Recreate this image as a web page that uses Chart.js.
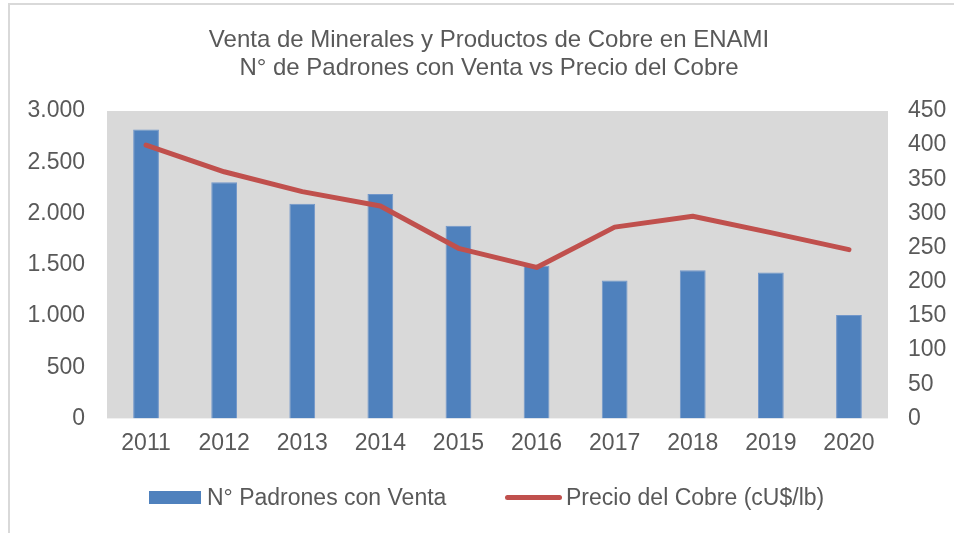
<!DOCTYPE html>
<html>
<head>
<meta charset="utf-8">
<script src="https://cdn.jsdelivr.net/npm/chart.js@4.4.1/dist/chart.umd.min.js"></script>
<style>
  html, body { margin: 0; padding: 0; background: #fff; }
  #wrap { position: relative; width: 954px; height: 533px; overflow: hidden; }
  #frame { position: absolute; left: 8px; top: 3px; width: 1000px; height: 600px;
           border-left: 2px solid #d9d9d9; border-top: 2px solid #d9d9d9; }
  canvas { position: absolute; left: 0; top: 0; }
  .lg { position: absolute; font: 23px "Liberation Sans", Arial, sans-serif; color: #595959;
        line-height: 28px; top: 483px; white-space: nowrap; }
  .sw { position: absolute; }
</style>
</head>
<body>
<div id="wrap">
  <div id="frame"></div>
  <canvas id="chart" width="954" height="533"></canvas>
  <div class="sw" style="left:149px;top:491px;width:52px;height:13px;background:#4f81bd"></div>
  <div class="lg" style="left:207px">N° Padrones con Venta</div>
  <div class="sw" style="left:505px;top:495px;width:57px;height:5px;background:#c0504d;border-radius:3px"></div>
  <div class="lg" style="left:566px">Precio del Cobre (cU$/lb)</div>
</div>
<script>
const years = ['2011', '2012', '2013', '2014', '2015', '2016', '2017', '2018', '2019', '2020'];
const padrones = [2820, 2305, 2095, 2190, 1880, 1490, 1345, 1445, 1425, 1010];
const precioCobre = [400, 361, 332, 311, 249, 221, 280, 296, 272, 247];

const fontFamily = '"Liberation Sans", Arial, sans-serif';
const textColor = '#595959';

// gray plot background
const plotBg = {
    id: 'plotBg',
    beforeDraw(chart) {
        const a = chart.chartArea;
        const c = chart.ctx;
        c.save();
        c.fillStyle = '#d9d9d9';
        c.fillRect(a.left, a.top, a.right - a.left, a.bottom - a.top);
        c.restore();
    }
};

new Chart(document.getElementById('chart'), {
    type: 'bar',
    data: {
        labels: years,
        datasets: [{
            type: 'line',
            label: 'Precio del Cobre (cU$/lb)',
            data: precioCobre,
            yAxisID: 'y1',
            borderColor: '#c0504d',
            borderWidth: 5,
            borderCapStyle: 'round',
            borderJoinStyle: 'round',
            pointRadius: 0,
            tension: 0,
            order: 0
        }, {
            label: 'N° Padrones con Venta',
            data: padrones,
            yAxisID: 'y',
            backgroundColor: '#4f81bd',
            borderColor: '#7297ca',
            borderWidth: 1,
            categoryPercentage: 1,
            barPercentage: 0.33,
            order: 1
        }]
    },
    options: {
        responsive: false,
        devicePixelRatio: 1,
        animation: false,
        layout: { padding: { left: 24, right: 0, top: 0, bottom: 65 } },
        scales: {
            x: {
                grid: { display: false, drawTicks: false },
                border: { display: false },
                ticks: { color: textColor, padding: 11, font: { family: fontFamily, size: 23, lineHeight: 1.2 } }
            },
            y: {
                position: 'left',
                min: 0,
                max: 3000,
                grid: { display: false, drawTicks: false },
                border: { display: false },
                ticks: {
                    stepSize: 500,
                    padding: 22,
                    color: textColor,
                    font: { family: fontFamily, size: 23 },
                    callback: v => v.toString().replace(/\B(?=(\d{3})+(?!\d))/g, '.')
                },
                afterFit: s => { s.width = 83; }
            },
            y1: {
                position: 'right',
                min: 0,
                max: 450,
                grid: { display: false, drawTicks: false },
                border: { display: false },
                ticks: {
                    stepSize: 50,
                    padding: 20,
                    color: textColor,
                    font: { family: fontFamily, size: 23 }
                },
                afterFit: s => { s.width = 66; }
            }
        },
        plugins: {
            legend: { display: false },
            tooltip: { enabled: false },
            title: {
                display: true,
                text: ['Venta de Minerales y Productos de Cobre en ENAMI', 'N° de Padrones con Venta vs Precio del Cobre'],
                color: textColor,
                font: { family: fontFamily, size: 24, weight: 'normal', lineHeight: 28 / 24 },
                padding: { top: 26, bottom: 29 }
            }
        }
    },
    plugins: [plotBg]
});
</script>
</body>
</html>
